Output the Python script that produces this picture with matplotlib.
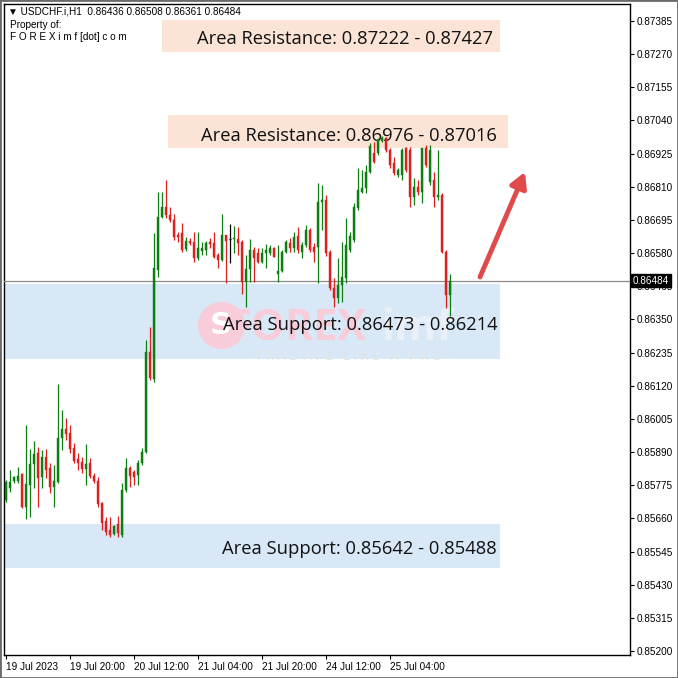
import matplotlib
matplotlib.use('Agg')
import matplotlib.pyplot as plt
from matplotlib.patches import Rectangle
import numpy as np

# USDCHF.i H1, 19 Jul 2023 04:00 .. 25 Jul 2023 19:00 (one value per hourly bar)
opens = [0.85724, 0.85766, 0.85790, 0.85790, 0.85814, 0.85700, 0.85776, 0.85849, 0.85887, 0.85804,
         0.85873, 0.85835, 0.85769, 0.85786, 0.85939, 0.85970, 0.85956, 0.85904, 0.85866, 0.85856,
         0.85831, 0.85852, 0.85807, 0.85790, 0.85713, 0.85651, 0.85620, 0.85606, 0.85641, 0.85602,
         0.85759, 0.85835, 0.85821, 0.85811, 0.85852, 0.85890, 0.86237, 0.86143, 0.86521, 0.86705,
         0.86740, 0.86712, 0.86695, 0.86643, 0.86650, 0.86594, 0.86622, 0.86619, 0.86563, 0.86587,
         0.86591, 0.86619, 0.86615, 0.86574, 0.86556, 0.86643, 0.86629, 0.86629, 0.86629, 0.86619,
         0.86480, 0.86525, 0.86591, 0.86580, 0.86549, 0.86580, 0.86580, 0.86598, 0.86508, 0.86518,
         0.86584, 0.86615, 0.86598, 0.86639, 0.86584, 0.86608, 0.86660, 0.86601, 0.86601, 0.86757,
         0.86764, 0.86584, 0.86459, 0.86424, 0.86469, 0.86494, 0.86591, 0.86626, 0.86737, 0.86792,
         0.86806, 0.86861, 0.86927, 0.86927, 0.86969, 0.86979, 0.86938, 0.86893, 0.86851, 0.86851,
         0.86945, 0.86938, 0.86775, 0.86809, 0.86792, 0.86945, 0.86827, 0.86834, 0.86775, 0.86782,
         0.86584, 0.86436]
highs = [0.85793, 0.85828, 0.85807, 0.85838, 0.85818, 0.85984, 0.85901, 0.85928, 0.85908, 0.85897,
         0.85901, 0.85852, 0.85845, 0.86126, 0.86036, 0.86008, 0.85984, 0.85922, 0.85887, 0.85873,
         0.85918, 0.85870, 0.85818, 0.85804, 0.85717, 0.85665, 0.85665, 0.85637, 0.85668, 0.85783,
         0.85870, 0.85842, 0.85828, 0.85863, 0.85904, 0.86279, 0.86324, 0.86650, 0.86792, 0.86792,
         0.86834, 0.86740, 0.86716, 0.86653, 0.86684, 0.86636, 0.86632, 0.86653, 0.86653, 0.86619,
         0.86622, 0.86632, 0.86653, 0.86580, 0.86716, 0.86643, 0.86681, 0.86674, 0.86671, 0.86626,
         0.86574, 0.86629, 0.86601, 0.86598, 0.86598, 0.86612, 0.86608, 0.86601, 0.86608, 0.86591,
         0.86626, 0.86632, 0.86653, 0.86671, 0.86619, 0.86678, 0.86667, 0.86615, 0.86823, 0.86816,
         0.86782, 0.86591, 0.86494, 0.86563, 0.86619, 0.86701, 0.86653, 0.86754, 0.86875, 0.86868,
         0.86886, 0.86962, 0.86965, 0.86979, 0.86986, 0.86983, 0.86945, 0.86913, 0.86875, 0.86945,
         0.86948, 0.86948, 0.86841, 0.86834, 0.86945, 0.86955, 0.86955, 0.86861, 0.86938, 0.86789,
         0.86591, 0.86508]
lows = [0.85717, 0.85752, 0.85783, 0.85783, 0.85696, 0.85658, 0.85665, 0.85766, 0.85700, 0.85766,
        0.85800, 0.85748, 0.85700, 0.85783, 0.85897, 0.85932, 0.85887, 0.85852, 0.85828, 0.85818,
        0.85776, 0.85800, 0.85783, 0.85700, 0.85620, 0.85602, 0.85596, 0.85602, 0.85596, 0.85596,
        0.85752, 0.85769, 0.85776, 0.85776, 0.85845, 0.85887, 0.86140, 0.86133, 0.86497, 0.86702,
        0.86702, 0.86688, 0.86626, 0.86619, 0.86584, 0.86587, 0.86608, 0.86549, 0.86556, 0.86574,
        0.86574, 0.86598, 0.86563, 0.86528, 0.86552, 0.86476, 0.86546, 0.86580, 0.86574, 0.86438,
        0.86393, 0.86480, 0.86480, 0.86546, 0.86546, 0.86528, 0.86574, 0.86567, 0.86480, 0.86514,
        0.86580, 0.86584, 0.86584, 0.86580, 0.86563, 0.86601, 0.86584, 0.86549, 0.86476, 0.86660,
        0.86570, 0.86452, 0.86393, 0.86407, 0.86410, 0.86476, 0.86584, 0.86619, 0.86730, 0.86789,
        0.86789, 0.86858, 0.86893, 0.86920, 0.86965, 0.86931, 0.86875, 0.86851, 0.86844, 0.86834,
        0.86861, 0.86740, 0.86747, 0.86782, 0.86754, 0.86879, 0.86816, 0.86740, 0.86764, 0.86580,
        0.86390, 0.86361]
closes = [0.85786, 0.85786, 0.85804, 0.85807, 0.85700, 0.85779, 0.85849, 0.85883, 0.85800, 0.85873,
          0.85828, 0.85769, 0.85790, 0.85939, 0.85970, 0.85953, 0.85901, 0.85859, 0.85852, 0.85831,
          0.85849, 0.85807, 0.85790, 0.85710, 0.85644, 0.85613, 0.85602, 0.85634, 0.85609, 0.85759,
          0.85835, 0.85807, 0.85804, 0.85852, 0.85890, 0.86237, 0.86147, 0.86528, 0.86705, 0.86740,
          0.86712, 0.86695, 0.86636, 0.86636, 0.86591, 0.86622, 0.86615, 0.86563, 0.86598, 0.86598,
          0.86615, 0.86612, 0.86567, 0.86556, 0.86643, 0.86622, 0.86629, 0.86632, 0.86615, 0.86480,
          0.86525, 0.86591, 0.86563, 0.86549, 0.86580, 0.86591, 0.86598, 0.86567, 0.86518, 0.86584,
          0.86619, 0.86598, 0.86636, 0.86591, 0.86608, 0.86660, 0.86591, 0.86584, 0.86757, 0.86764,
          0.86580, 0.86459, 0.86424, 0.86469, 0.86497, 0.86608, 0.86639, 0.86740, 0.86799, 0.86806,
          0.86861, 0.86952, 0.86896, 0.86972, 0.86979, 0.86938, 0.86886, 0.86858, 0.86868, 0.86938,
          0.86868, 0.86775, 0.86809, 0.86792, 0.86945, 0.86886, 0.86938, 0.86775, 0.86782, 0.86584,
          0.86436, 0.86484]

date_ticks = [0, 16, 32, 48, 64, 80, 96]
date_labels = ['19 Jul 2023', '19 Jul 20:00', '20 Jul 12:00', '21 Jul 04:00',
               '21 Jul 20:00', '24 Jul 12:00', '25 Jul 04:00']
price_ticks = [0.85200, 0.85315, 0.85430, 0.85545, 0.85660, 0.85775, 0.85890, 0.86005, 0.86120, 0.86235,
               0.86350, 0.86465, 0.86580, 0.86695, 0.86810, 0.86925, 0.87040, 0.87155, 0.87270, 0.87385]

last_price = 0.86484
resistance = [(0.87222, 0.87427), (0.86976, 0.87016)]
support = [(0.86473, 0.86214), (0.85642, 0.85488)]

# where the resistance boxes are actually drawn on the chart
resist_box = [(0.87278, 0.87388, 39.0, 123.5), (0.86945, 0.87059, 40.5, 125.5)]

W = 678
fig = plt.figure(figsize=(6.78, 6.78), dpi=100)
ax = fig.add_axes([4 / W, 23 / W, 626 / W, 651 / W])
ax.set_xlim(-0.5, 156)
ax.set_ylim(0.851863, 0.874439)

green = '#0c7e12'
red = '#dc1f1f'
o = np.array(opens); h = np.array(highs); l = np.array(lows); c = np.array(closes)
x = np.arange(len(o))

# zones
for lo, hi, x0, x1 in resist_box:
    ax.add_patch(Rectangle((x0, lo), x1 - x0, hi - lo, color='#fbe3d6', lw=0, zorder=1))
for hi, lo in support:
    ax.add_patch(Rectangle((-0.5, lo), 124, hi - lo, color='#d8e8f7', lw=0, zorder=1))

tfont = dict(family=['Open Sans', 'DejaVu Sans'], fontsize=13.2, color='#111111', zorder=3,
             textcoords='offset points', ha='right', va='center')
ax.annotate('Area Resistance: %.5f - %.5f' % resistance[0],
            xy=(121.8, sum(resist_box[0][:2]) / 2), xytext=(0, -2.2), **tfont)
ax.annotate('Area Resistance: %.5f - %.5f' % resistance[1],
            xy=(122.8, sum(resist_box[1][:2]) / 2), xytext=(0, -3.2), **tfont)
for hi, lo in support:
    ax.annotate('Area Support: %.5f - %.5f' % (hi, lo),
                xy=(122.8, (hi + lo) / 2), xytext=(0, -2.6), **tfont)

# watermark
ax.scatter([0.3466], [0.5069], s=1150, color='#f8ccd8', transform=ax.transAxes, zorder=2, lw=0)
ax.text(0.3466, 0.5069, 'S', transform=ax.transAxes, ha='center', va='center', fontsize=22,
        fontweight='bold', color='white', zorder=2)
ax.text(0.357, 0.501, 'FOREX', transform=ax.transAxes, ha='left', va='center', fontsize=31,
        fontweight='bold', color='#f8ccd8', family='Open Sans', zorder=2)
ax.text(0.603, 0.501, 'imf', transform=ax.transAxes, ha='left', va='center', fontsize=31,
        fontweight='bold', color='#eaf0f7', family='Open Sans', zorder=2)
ax.text(0.551, 0.458, 'T R A D I N G   L I K E   A   P R O', transform=ax.transAxes,
        ha='center', va='center', fontsize=9.5, color='#e4e4e4', family='Open Sans', zorder=2)

ax.axhline(last_price, color='#8a8a8a', lw=0.9, zorder=4)

# candles
up = c > o
dn = c < o
dj = c == o
ax.vlines(x[up], l[up], h[up], color=green, lw=0.9, zorder=5)
ax.bar(x[up], c[up] - o[up], bottom=o[up], width=0.7, color=green, edgecolor=green, lw=0.3, zorder=6)
ax.vlines(x[dn], l[dn], h[dn], color=red, lw=0.9, zorder=5)
ax.bar(x[dn], o[dn] - c[dn], bottom=c[dn], width=0.7, color=red, edgecolor=red, lw=0.3, zorder=6)
ax.vlines(x[dj], l[dj], h[dj], color='black', lw=0.9, zorder=5)
ax.hlines(o[dj], x[dj] - 0.35, x[dj] + 0.35, color='black', lw=0.9, zorder=6)

# arrow
ax.annotate('', xy=(525, W - 172), xytext=(480, W - 277), xycoords='figure pixels',
            textcoords='figure pixels',
            arrowprops=dict(arrowstyle='-|>,head_length=0.9,head_width=0.5', lw=3.5,
                            color='#e04a4a', shrinkA=0, shrinkB=0), zorder=7)

# axes
afont = ['Liberation Sans', 'DejaVu Sans']
ax.yaxis.tick_right()
ax.set_yticks(price_ticks)
ax.set_yticklabels(['%.5f' % p for p in price_ticks], family=afont, fontsize=7.2)
ax.set_xticks(date_ticks)
ax.set_xticklabels(date_labels, family=afont, fontsize=7.2, ha='left')
ax.tick_params(axis='both', length=3, width=0.8, pad=2, colors='black')
for s in ax.spines.values():
    s.set_linewidth(1)
    s.set_color('black')

ax.annotate('%.5f' % last_price, xy=(1, last_price), xycoords=('axes fraction', 'data'),
            xytext=(2, 0), textcoords='offset points', ha='left', va='center',
            fontsize=7.2, family=afont, color='white',
            bbox=dict(boxstyle='square,pad=0.15', fc='black', ec='black'), zorder=10,
            annotation_clip=False)

# header
fig.text(8 / W, 1 - 12 / W, '\u25bc USDCHF.i,H1  0.86436 0.86508 0.86361 0.86484',
         family=afont, fontsize=7.2, va='center', ha='left')
fig.text(10 / W, 1 - 25 / W, 'Property of:', family=afont, fontsize=7.2, va='center', ha='left')
fig.text(10 / W, 1 - 37 / W, 'F O R E X i m f [dot] c o m', family=afont, fontsize=7.2,
         va='center', ha='left')

fig.patches.append(Rectangle((0, 0), 1, 1, transform=fig.transFigure, fill=False,
                             ec='#6a6a6a', lw=2))

plt.savefig('out.png', dpi=100)
